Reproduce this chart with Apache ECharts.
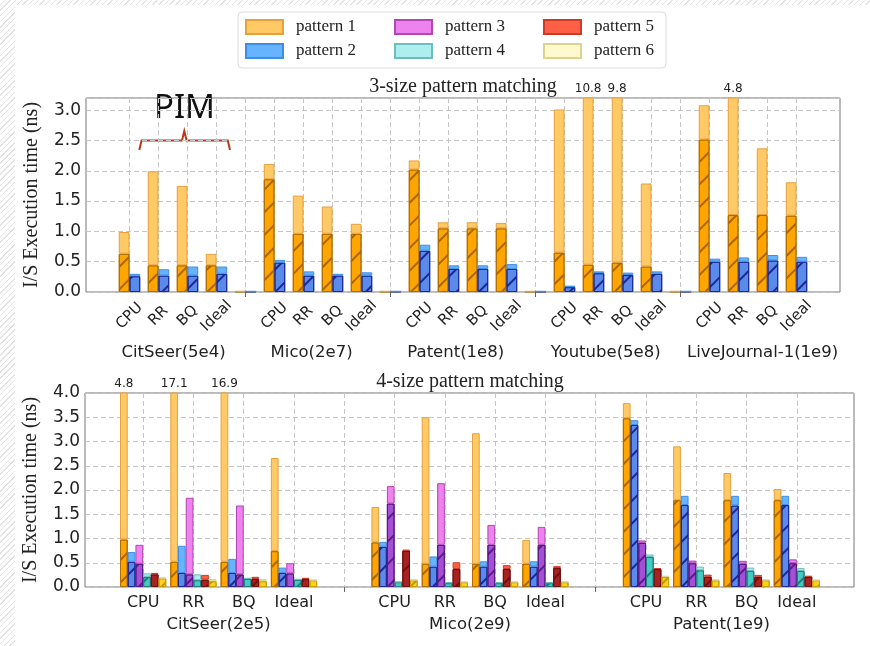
<!DOCTYPE html>
<html><head><meta charset="utf-8">
<script src="https://cdn.jsdelivr.net/npm/echarts@6/dist/echarts.min.js"></script>
<style>
html,body{margin:0;padding:0;background:#fff;}
#wrap{position:relative;width:870px;height:646px;overflow:hidden;background:#fff;}
#stripL{position:absolute;left:0;top:0;width:15px;height:646px;background:repeating-linear-gradient(135deg,#fff 0 3px,#e3e3e3 3px 4px);}
#stripT{position:absolute;left:0;top:0;width:870px;height:5px;background:repeating-linear-gradient(135deg,#fff 0 3px,#e3e3e3 3px 4px);}
#chart{position:absolute;left:0;top:0;width:870px;height:646px;}
</style></head>
<body><div id="wrap"><div id="stripL"></div><div id="stripT"></div><div id="chart"></div></div>
<script>
// ---------- DATA: 3-size pattern matching ----------
const topCategories = ['', 'CPU','RR','BQ','Ideal', '', 'CPU','RR','BQ','Ideal', '', 'CPU','RR','BQ','Ideal', '', 'CPU','RR','BQ','Ideal', '', 'CPU','RR','BQ','Ideal', ''];
const topGroups = ['CitSeer(5e4)','Mico(2e7)','Patent(1e8)','Youtube(5e8)','LiveJournal-1(1e9)'];
const topP1Total = [null, 0.99,1.99,1.75,0.63, 0.01, 2.11,1.59,1.41,1.125, 0.01, 2.17,1.15,1.15,1.14, 0.01, 3.01,10.8,9.8,1.79, 0.01, 3.08,4.8,2.37,1.81, null];
const topP1Part  = [null, 0.63,0.44,0.44,0.44, 0.01, 1.86,0.96,0.96,0.96, 0.01, 2.02,1.05,1.05,1.05, 0.01, 0.65,0.45,0.485,0.42, 0.01, 2.515,1.27,1.27,1.26, null];
const topP2Total = [null, 0.30,0.375,0.42,0.42, 0.01, 0.53,0.34,0.30,0.325, 0.01, 0.78,0.44,0.44,0.46, 0.01, 0.105,0.34,0.32,0.34, 0.01, 0.55,0.57,0.61,0.58, null];
const topP2Part  = [null, 0.26,0.27,0.27,0.30, 0.01, 0.485,0.27,0.27,0.27, 0.01, 0.68,0.38,0.38,0.38, 0.01, 0.08,0.31,0.28,0.30, 0.01, 0.50,0.50,0.52,0.50, null];
const topYTicks = [0, 3.2, 0.5];   // min, max, step

// ---------- DATA: 4-size pattern matching ----------
const botCategories = ['CPU','RR','BQ','Ideal', '', 'CPU','RR','BQ','Ideal', '', 'CPU','RR','BQ','Ideal'];
const botGroups = ['CitSeer(2e5)','Mico(2e9)','Patent(1e9)'];
const botP1Total = [4.8,17.1,16.9,2.66, null, 1.65,3.50,3.17,0.97, null, 3.79,2.90,2.35,2.02];
const botP1Part  = [0.98,0.52,0.52,0.74, null, 0.92,0.48,0.48,0.48, null, 3.48,1.79,1.79,1.79];
const botP2Total = [0.72,0.85,0.58,0.40, null, 0.93,0.63,0.53,0.53, null, 3.44,1.88,1.88,1.88];
const botP2Part  = [0.52,0.29,0.29,0.29, null, 0.83,0.42,0.42,0.42, null, 3.34,1.69,1.68,1.69];
const botP3Total = [0.87,1.84,1.68,0.49, null, 2.08,2.14,1.28,1.24, null, 0.96,0.545,0.54,0.57];
const botP3Part  = [0.48,0.26,0.26,0.28, null, 1.72,0.87,0.87,0.87, null, 0.91,0.49,0.48,0.49];
const botP4Total = [0.28,0.26,0.19,0.165, null, 0.11,0.10,0.10,0.10, null, 0.67,0.42,0.40,0.39];
const botP4Part  = [0.21,0.14,0.165,0.15, null, 0.10,0.08,0.08,0.08, null, 0.62,0.345,0.33,0.33];
const botP5Total = [0.29,0.25,0.21,0.19, null, 0.77,0.51,0.45,0.43, null, 0.39,0.255,0.25,0.23];
const botP5Part  = [0.26,0.15,0.165,0.165, null, 0.745,0.37,0.37,0.39, null, 0.37,0.21,0.21,0.21];
const botP6Total = [0.19,0.165,0.165,0.145, null, 0.15,0.11,0.11,0.11, null, 0.23,0.15,0.15,0.145];
const botP6Part  = [0.18,0.12,0.12,0.14, null, 0.14,0.10,0.10,0.10, null, 0.21,0.14,0.14,0.14];
const botYTicks = [0, 4, 0.5];

const patternNames = ['pattern 1','pattern 2','pattern 3','pattern 4','pattern 5','pattern 6'];

// ---------- STYLES / LAYOUT ----------
const SANS = 'DejaVu Sans', SERIF = 'Liberation Serif';
const styles = [
  {light:'#FFC966', lightEdge:'#E6A03C', dark:'#FFA500', darkEdge:'#B06E00', hatch:'rgba(110,60,0,0.6)'},
  {light:'#66B3FF', lightEdge:'#3E8EE8', dark:'#5A8BEA', darkEdge:'#1C2A96', hatch:'rgba(20,20,130,0.85)'},
  {light:'#EE82EE', lightEdge:'#B445B4', dark:'#A64FD6', darkEdge:'#561A80', hatch:'rgba(70,10,110,0.75)'},
  {light:'#AFEEEE', lightEdge:'#6CBDBD', dark:'#45C9C0', darkEdge:'#1E8080', hatch:'rgba(0,80,80,0.6)'},
  {light:'#FF5F44', lightEdge:'#C83C28', dark:'#A82222', darkEdge:'#6E1010', hatch:'rgba(80,0,0,0.6)'},
  {light:'#FFFACD', lightEdge:'#DCD48C', dark:'#FFD21A', darkEdge:'#C8A000', hatch:'rgba(120,90,0,0.5)'}
];
const topGroupPos = [3.02, 7.78, 12.75, 17.92, 23.33]; // label anchors (category-band units)
const botGroupPos = [2, 7, 12];
const gridLine = {type:[5,3], color:'#c6c6c6', width:1};

function pairSeries(pi, total, part, xIdx, yIdx, yMax, gap) {
  const st = styles[pi];
  const rest = total.map((t, i) => (t == null || part[i] == null) ? null : +(t - part[i]).toFixed(4));
  const stack = 's' + xIdx + '_' + pi;
  return [
    {type:'bar', name: patternNames[pi] + ' part', xAxisIndex:xIdx, yAxisIndex:yIdx, stack, data: part,
     barGap:'0%', barCategoryGap:gap, emphasis:{disabled:true},
     itemStyle:{color:st.dark, borderColor:st.darkEdge, borderWidth:1,
       decal:{symbol:'rect', symbolSize:1, dashArrayX:[1,0], dashArrayY:[1.3,14], rotation:-Math.PI/4, color:st.hatch}}},
    {type:'bar', name: patternNames[pi], xAxisIndex:xIdx, yAxisIndex:yIdx, stack, data: rest,
     barGap:'0%', barCategoryGap:gap, emphasis:{disabled:true},
     itemStyle:{color:st.light, borderColor:st.lightEdge, borderWidth:1},
     label:{show:true, position:'top', distance:3, fontFamily:SANS, fontSize:12, color:'#222',
       formatter: p => (total[p.dataIndex] != null && total[p.dataIndex] > yMax) ? String(total[p.dataIndex]) : ''}}
  ];
}

const series = [
  ...pairSeries(0, topP1Total, topP1Part, 0, 0, topYTicks[1], '26%'),
  ...pairSeries(1, topP2Total, topP2Part, 0, 0, topYTicks[1], '26%'),
  ...pairSeries(0, botP1Total, botP1Part, 3, 2, botYTicks[1], '8%'),
  ...pairSeries(1, botP2Total, botP2Part, 3, 2, botYTicks[1], '8%'),
  ...pairSeries(2, botP3Total, botP3Part, 3, 2, botYTicks[1], '8%'),
  ...pairSeries(3, botP4Total, botP4Part, 3, 2, botYTicks[1], '8%'),
  ...pairSeries(4, botP5Total, botP5Part, 3, 2, botYTicks[1], '8%'),
  ...pairSeries(5, botP6Total, botP6Part, 3, 2, botYTicks[1], '8%')
];

const yName = 'I/S Execution time (ns)';
function yAxisVisible(grid, ticks) {
  return {gridIndex:grid, type:'value', min:ticks[0], max:ticks[1], interval:ticks[2],
    axisLine:{show:false}, axisTick:{show:false},
    axisLabel:{formatter:v => v.toFixed(1), showMaxLabel: ticks[1] % ticks[2] === 0, fontFamily:SANS, fontSize:17, color:'#222', margin:5},
    splitLine:{show:true, lineStyle:gridLine},
    name:yName, nameLocation:'middle', nameGap:44, nameTextStyle:{fontFamily:SERIF, fontSize:20, color:'#222'}};
}
const legendText = {fontFamily:SERIF, fontSize:17, color:'#222', width:64, lineHeight:18, padding:[0,0,0,8]};

const option = {
  animation:false,
  legend:[
    {data:[patternNames[0],patternNames[2],patternNames[4]], left:238, top:12, orient:'horizontal',
     itemWidth:37, itemHeight:14, itemGap:34, icon:'rect', selectedMode:false,
     padding:[6,8,32,7], borderColor:'#dcdcdc', borderWidth:1, borderRadius:4, backgroundColor:'#fff',
     textStyle:legendText},
    {data:[patternNames[1],patternNames[3],patternNames[5]], left:238, top:42, orient:'horizontal',
     itemWidth:37, itemHeight:14, itemGap:34, icon:'rect', selectedMode:false,
     padding:[0,8,0,7], textStyle:legendText}
  ],
  grid:[
    {left:86, right:30, top:98, bottom:354, show:true, borderColor:'#777', borderWidth:1},
    {left:85, right:16, top:393, bottom:59, show:true, borderColor:'#777', borderWidth:1},
    {left:118, right:48, top:393, bottom:59, show:false}
  ],
  xAxis:[
    {gridIndex:0, type:'category', data:topCategories,
     axisLine:{show:false},
     axisTick:{show:true, alignWithLabel:true, length:5, interval:(i) => i % 5 === 0 && i > 0 && i < 25, lineStyle:{color:'#666'}},
     axisLabel:{interval:0, rotate:45, align:'center', verticalAlign:'middle', margin:24, fontFamily:SANS, fontSize:15, color:'#222'},
     splitLine:{show:true, alignWithLabel:true, interval:(i) => i > 0 && i < 25, lineStyle:gridLine}},
    {gridIndex:0, type:'value', min:0, max:topCategories.length, position:'bottom',
     axisLine:{show:false}, axisTick:{show:false}, splitLine:{show:false},
     axisLabel:{customValues:topGroupPos, margin:52, fontFamily:SANS, fontSize:16.5, color:'#222',
       formatter:v => { const k = topGroupPos.indexOf(v); return k >= 0 ? topGroups[k] : ''; }}},
    {gridIndex:1, type:'value', min:0, max:1, show:true,
     axisLine:{show:false}, axisTick:{show:false}, axisLabel:{show:false}, splitLine:{show:false}},
    {gridIndex:2, type:'category', data:botCategories,
     axisLine:{show:false},
     axisTick:{show:true, alignWithLabel:true, length:5, interval:(i) => botCategories[i] === '', lineStyle:{color:'#666'}},
     axisLabel:{interval:0, margin:8, fontFamily:SANS, fontSize:16, color:'#222'},
     splitLine:{show:true, alignWithLabel:true, interval:0, lineStyle:gridLine}},
    {gridIndex:2, type:'value', min:0, max:botCategories.length, position:'bottom',
     axisLine:{show:false}, axisTick:{show:false}, splitLine:{show:false},
     axisLabel:{customValues:botGroupPos, margin:29, fontFamily:SANS, fontSize:16.5, color:'#222',
       formatter:v => { const k = botGroupPos.indexOf(v); return k >= 0 ? botGroups[k] : ''; }}}
  ],
  yAxis:[
    yAxisVisible(0, topYTicks),
    yAxisVisible(1, botYTicks),
    {gridIndex:2, type:'value', min:botYTicks[0], max:botYTicks[1], show:false, splitLine:{show:false}}
  ],
  graphic:[
    {type:'text', x:463, y:87, style:{text:'3-size pattern matching', font:'20px "Liberation Serif"', fill:'#222', align:'center', verticalAlign:'middle', textAlign:'center', textVerticalAlign:'middle'}},
    {type:'text', x:470, y:382, style:{text:'4-size pattern matching', font:'20px "Liberation Serif"', fill:'#222', align:'center', verticalAlign:'middle', textAlign:'center', textVerticalAlign:'middle'}},
    {type:'text', x:184.5, y:109, style:{text:'PIM', font:'33px "Noto Sans"', fill:'#111', align:'center', verticalAlign:'middle', textAlign:'center', textVerticalAlign:'middle'}},
    {type:'polyline', shape:{points:[[139.3,150],[141.5,140.5],[182,140.5],[184.3,131],[186.6,140.5],[227.8,140.5],[230,150]]},
     style:{stroke:'#B83A1A', lineWidth:2, fill:null}}
  ],
  series
};
const chart = echarts.init(document.getElementById('chart'), null, {renderer:'canvas'});
chart.setOption(option);
</script></body></html>
